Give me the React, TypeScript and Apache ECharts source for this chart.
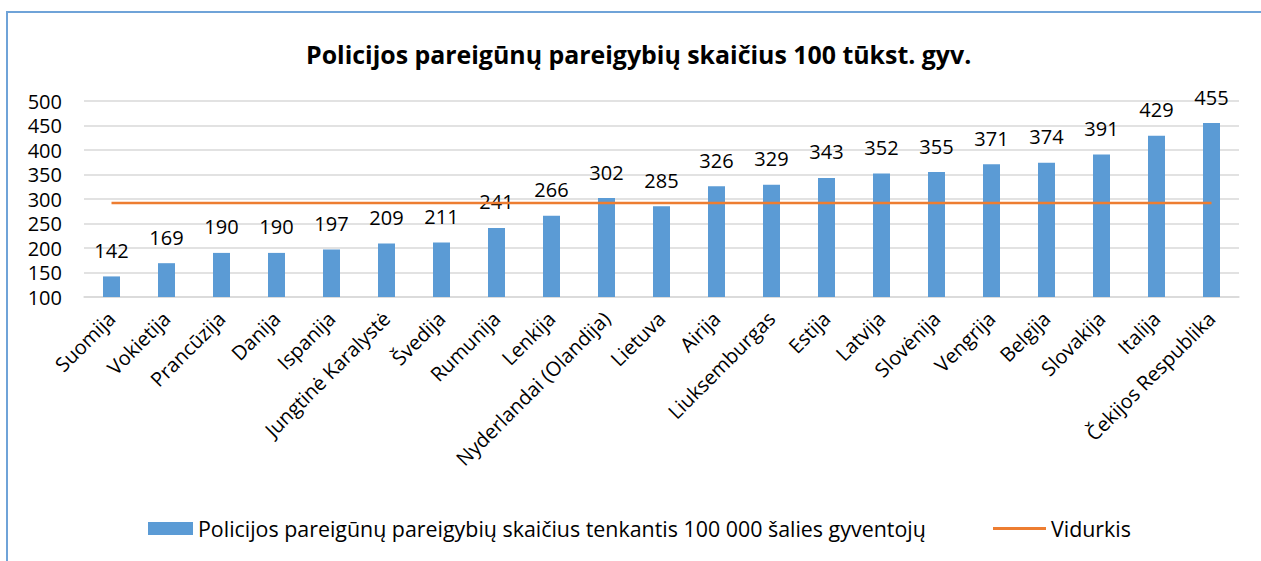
import React, { useEffect, useRef } from "react";
import * as echarts from "echarts";

const categories = [
  "Suomija", "Vokietija", "Prancūzija", "Danija", "Ispanija", "Jungtinė Karalystė", "Švedija",
  "Rumunija", "Lenkija", "Nyderlandai (Olandija)", "Lietuva", "Airija", "Liuksemburgas", "Estija",
  "Latvija", "Slovėnija", "Vengrija", "Belgija", "Slovakija", "Italija", "Čekijos Respublika",
];
const officers = [142, 169, 190, 190, 197, 209, 211, 241, 266, 302, 285, 326, 329, 343, 352, 355, 371, 374, 391, 429, 455];
const average = [292, 292, 292, 292, 292, 292, 292, 292, 292, 292, 292, 292, 292, 292, 292, 292, 292, 292, 292, 292, 292];
const yTicks = { min: 100, max: 500, interval: 50 };

const barName = "Policijos pareigūnų pareigybių skaičius tenkantis 100 000 šalies gyventojų";
const lineName = "Vidurkis";
const titleText = "Policijos pareigūnų pareigybių skaičius 100 tūkst. gyv.";

const FONT = "'Open Sans', 'Noto Sans', sans-serif";
const FS = 20;
const LEGEND_FS = 21.4;

export default function App() {
  const ref = useRef<HTMLDivElement>(null);
  useEffect(() => {
    if (!ref.current) return;
    const chart = echarts.init(ref.current, undefined, { renderer: "svg" });
    chart.setOption({
      animation: false,
      backgroundColor: "#ffffff",
      textStyle: { fontFamily: FONT },
      title: {
        text: titleText,
        left: 301,
        top: 36,
        textStyle: { fontFamily: FONT, fontSize: 24.9, fontWeight: "bold", color: "#000" },
      },
      graphic: [
        {
          type: "rect",
          shape: { x: 7, y: 12, width: 1300, height: 600 },
          style: { fill: "none", stroke: "#6fa3d8", lineWidth: 2 },
          silent: true,
        },
      ],
      grid: { left: 84, right: 22, top: 101, height: 196, containLabel: false },
      legend: [
        {
          data: [barName],
          left: 143,
          top: 513,
          itemWidth: 45,
          itemHeight: 13,
          itemGap: 5,
          icon: "rect",
          textStyle: { fontFamily: FONT, fontSize: LEGEND_FS, color: "#000" },
        },
        {
          data: [lineName],
          left: 988,
          top: 513,
          itemWidth: 53,
          itemHeight: 3,
          icon: "rect",
          textStyle: { fontFamily: FONT, fontSize: LEGEND_FS, color: "#000" },
        },
      ],
      xAxis: {
        type: "category",
        data: categories,
        axisLine: { show: true, lineStyle: { color: "#d9d9d9", width: 1.5 } },
        axisTick: { show: false },
        axisLabel: {
          interval: 0,
          rotate: 45,
          margin: 18,
          fontFamily: FONT,
          fontSize: FS,
          color: "#000",
        },
      },
      yAxis: {
        type: "value",
        min: yTicks.min,
        max: yTicks.max,
        interval: yTicks.interval,
        axisLine: { show: false },
        axisTick: { show: false },
        axisLabel: { margin: 22, fontFamily: FONT, fontSize: FS, color: "#000" },
        splitLine: { lineStyle: { color: "#d9d9d9", width: 1.5 } },
      },
      series: [
        {
          name: barName,
          type: "bar",
          data: officers,
          barWidth: 17,
          itemStyle: { color: "#5b9bd5" },
          label: {
            show: true,
            position: "top",
            distance: 16,
            fontFamily: FONT,
            fontSize: FS,
            color: "#000",
          },
          z: 2,
        },
        {
          name: lineName,
          type: "line",
          data: average,
          symbol: "none",
          lineStyle: { color: "#ed7d31", width: 2.5 },
          itemStyle: { color: "#ed7d31" },
          z: 3,
        },
      ],
    });
    return () => chart.dispose();
  }, []);
  return (
    <div
      ref={ref}
      style={{ position: "fixed", left: 0, top: 0, width: 1261, height: 561 }}
    />
  );
}
